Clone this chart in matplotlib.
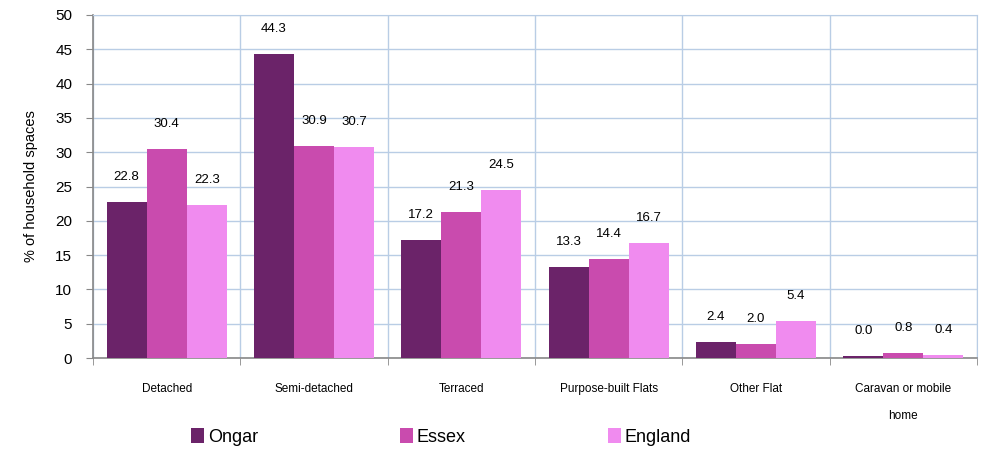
import matplotlib
matplotlib.use("Agg")
import matplotlib.pyplot as plt
import numpy as np

plt.rcParams['font.family'] = ['Liberation Sans', 'DejaVu Sans']

categories = ["Detached", "Semi-detached", "Terraced", "Purpose-built Flats", "Other Flat", "Caravan or mobile\nhome"]
series_names = ["Ongar", "Essex", "England"]
ongar = [22.8, 44.3, 17.2, 13.3, 2.4, 0.35]
essex = [30.4, 30.9, 21.3, 14.4, 2.0, 0.8]
england = [22.3, 30.7, 24.5, 16.7, 5.4, 0.4]
label_text = [
    ["22.8", "44.3", "17.2", "13.3", "2.4", "0.0"],
    ["30.4", "30.9", "21.3", "14.4", "2.0", "0.8"],
    ["22.3", "30.7", "24.5", "16.7", "5.4", "0.4"],
]
colors = ["#6B2369", "#C94BAE", "#F08BEF"]

fig = plt.figure(figsize=(9.87, 4.51), dpi=100)
ax = fig.add_axes([93/987, 1 - 358/451, (977-93)/987, (358-15)/451])

x = np.arange(len(categories))
w = 0.272
for i, (vals, c, name) in enumerate(zip([ongar, essex, england], colors, series_names)):
    pos = x + (i - 1) * w
    ax.bar(pos, vals, width=w, color=c, label=name, zorder=3)
    for p, v, t in zip(pos, vals, label_text[i]):
        ax.annotate(t, (p, v), xytext=(0, 18), textcoords='offset points',
                    ha='center', va='center', fontsize=9.5, color='#000000')

ax.set_xlim(-0.5, len(categories) - 0.5)
ax.set_ylim(0, 50)
ax.set_yticks(np.arange(0, 51, 5))
ax.set_xticks(x)
ax.set_xticklabels(categories, fontsize=8.5, linespacing=2.7)
ax.set_xticks(np.arange(-0.5, len(categories), 1), minor=True)
ax.tick_params(axis='x', which='major', length=0, pad=18)
ax.tick_params(axis='x', which='minor', length=5, color='#888888', direction='out')
ax.tick_params(axis='y', length=5, color='#888888', labelsize=11, direction='out', pad=10)
ax.grid(True, axis='y', color='#B9CDE5', linewidth=1, zorder=0)
ax.grid(True, axis='x', which='minor', color='#B9CDE5', linewidth=1, zorder=0)
for s in ['top', 'right']:
    ax.spines[s].set_color('#B9CDE5')
for s in ['left', 'bottom']:
    ax.spines[s].set_color('#888888')
    ax.spines[s].set_linewidth(1.2)
ax.set_ylabel("% of household spaces", fontsize=10.5, labelpad=12)

leg = fig.legend(loc='lower center', bbox_to_anchor=(0.447, -0.025), ncol=3, frameon=False,
                 fontsize=13, handlelength=0.7, handleheight=0.9, handletextpad=0.2,
                 columnspacing=7.9)

fig.savefig("out.png", dpi=100)
